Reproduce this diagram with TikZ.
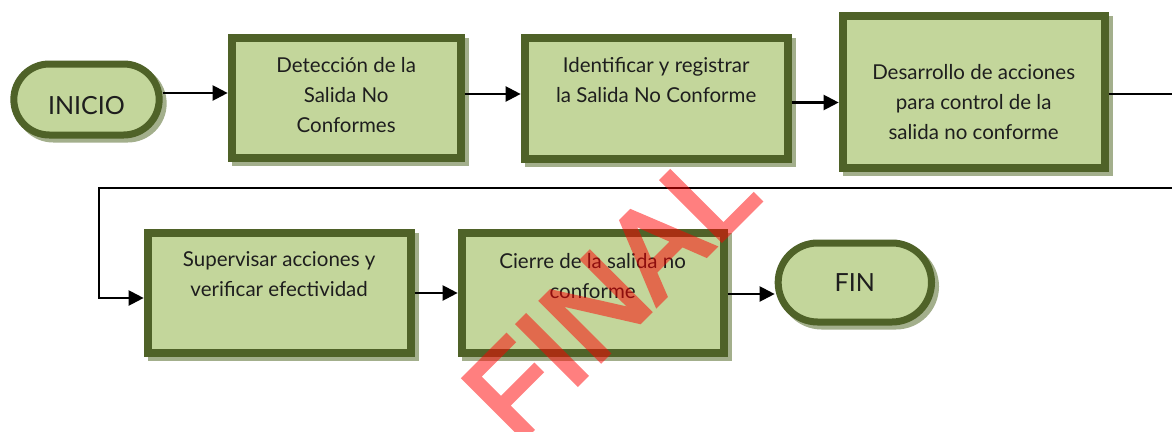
\documentclass[tikz,border=0pt]{standalone}
\usepackage{fontspec}
\setmainfont{Lato}
\newfontfamily\wmfont[FakeBold=3.5]{Liberation Sans}
\usepackage{tikz}
\usetikzlibrary{positioning,shapes.misc,shadows,arrows.meta}

\definecolor{boxfill}{HTML}{C3D69B}
\definecolor{boxborder}{HTML}{4F6228}
\definecolor{shadowgreen}{HTML}{A3AF8C}
\definecolor{textgray}{HTML}{1E1E1E}

\begin{document}
\begin{tikzpicture}[
    x=1pt, y=1pt,
    shadowed/.style={drop shadow={shadow xshift=4pt, shadow yshift=-4pt, fill=shadowgreen, draw=shadowgreen, line width=#1, opacity=1}},
    box/.style={rectangle, draw=boxborder, fill=boxfill, line width=8pt, inner sep=0pt, shadowed=8pt},
    term/.style={rounded rectangle, draw=boxborder, fill=boxfill, line width=7pt, text=textgray, font=\fontsize{25}{30}\selectfont, shadowed=7pt},
    boxtext/.style={anchor=north, align=center, text=textgray, font=\fontsize{20.5}{30}\selectfont},
    link/.style={line width=2.2pt, black},
    arrow/.style={link, -{Triangle[length=15pt,width=15pt]}},
    watermark/.style={text=red, font=\wmfont\fontsize{123}{123}\selectfont}
]
    \path[use as bounding box, fill=white] (0,0) rectangle (1172,-431);

    % first row
    \node[term, minimum width=152pt, minimum height=71pt, text height=30pt] (ini) at (86.5,-99.5) {INICIO};
    \node[box, minimum width=229pt, minimum height=120pt, right=65pt of ini, yshift=1.5pt,
          label={[boxtext, yshift=-19.5pt]north:Detección de la\\Salida No\\Conformes}] (det) {};
    \node[box, minimum width=263pt, minimum height=121pt, right=56pt of det,
          label={[boxtext, yshift=-20.5pt]north:Identificar y registrar\\la Salida No Conforme}] (idt) {};
    \node[box, minimum width=262pt, minimum height=152pt, right=47pt of idt, yshift=6.5pt,
          label={[boxtext, yshift=-49.5pt]north:Desarrollo de acciones\\para control de la\\salida no conforme}] (des) {};

    % second row
    \node[box, minimum width=263pt, minimum height=120pt, below right=67pt and -84pt of det.south west,
          label={[boxtext, yshift=-19.5pt]north:Supervisar acciones y\\verificar efectividad}] (sup) {};
    \node[box, minimum width=262pt, minimum height=120pt, right=43pt of sup,
          label={[boxtext, yshift=-20.5pt]north:Cierre de la salida no\\conforme}] (cie) {};
    \node[term, minimum width=160pt, minimum height=79pt, right=47pt of cie, yshift=10.5pt] (fin) {FIN};

    % connectors
    \coordinate (edgeA) at (1172,-94);
    \coordinate (edgeB) at (1172,-188);
    \coordinate (turn) at (99,-188);

    \draw[arrow] ([yshift=6.5pt]ini.east) -- ([yshift=6.5pt]ini.east -| det.west);
    \draw[arrow] ([yshift=4pt]det.east) -- ([yshift=4pt]det.east -| idt.west);
    \draw[arrow] ([yshift=-4.5pt]idt.east) -- ([yshift=-4.5pt]idt.east -| des.west);
    \draw[link] (des.east |- edgeA) -- (edgeA);
    \draw[arrow] (edgeB) -- (turn) |- ([yshift=-5pt]sup.west);
    \draw[arrow] (sup.east) -- (sup.east -| cie.west);
    \draw[arrow] ([yshift=-1pt]cie.east) -- ([yshift=-1pt]cie.east -| fin.west);

    % stamp
    \begin{scope}[transparency group, opacity=0.5]
        \node[watermark, rotate=45] (stamp) at (610,-292) {FINAL};
    \end{scope}
\end{tikzpicture}
\end{document}
